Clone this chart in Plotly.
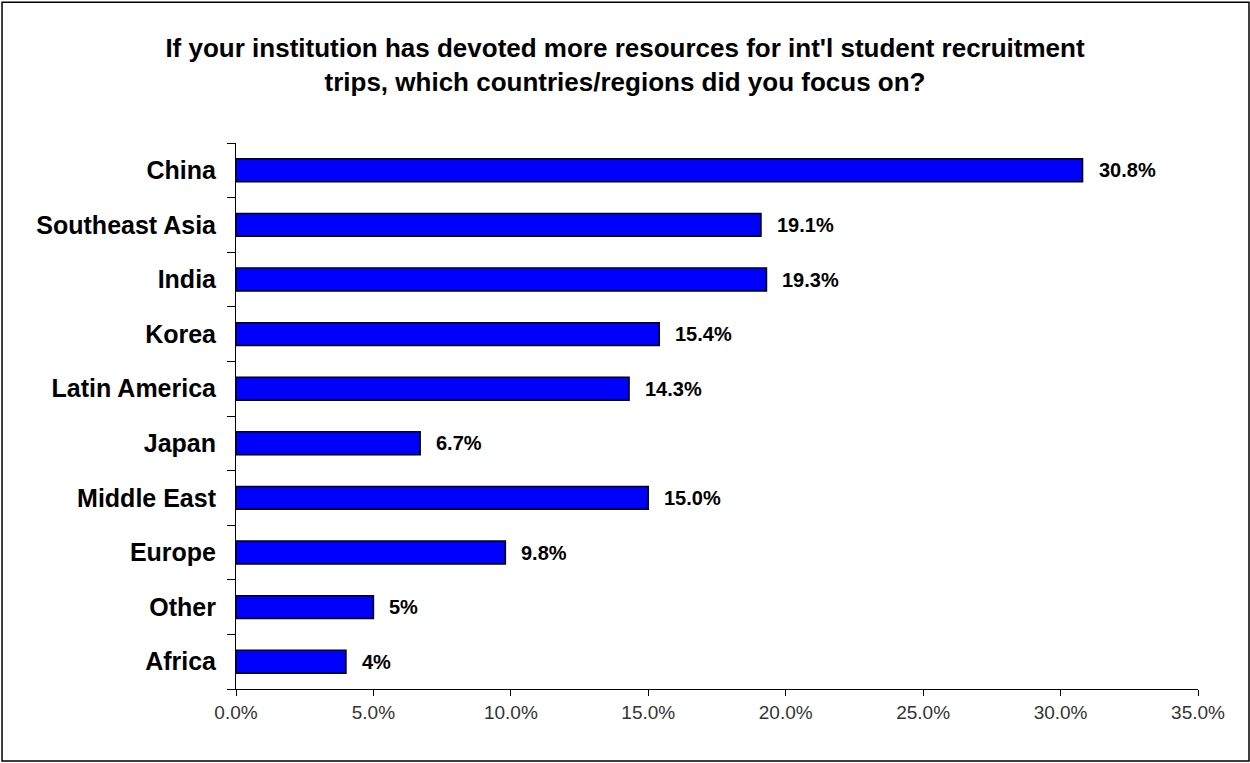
import plotly.graph_objects as go

categories = ["China", "Southeast Asia", "India", "Korea", "Latin America",
              "Japan", "Middle East", "Europe", "Other", "Africa"]
values = [30.8, 19.1, 19.3, 15.4, 14.3, 6.7, 15.0, 9.8, 5, 4]
value_labels = ["30.8%", "19.1%", "19.3%", "15.4%", "14.3%",
                "6.7%", "15.0%", "9.8%", "5%", "4%"]
x_ticks = [0, 5, 10, 15, 20, 25, 30, 35]
x_tick_labels = ["0.0%", "5.0%", "10.0%", "15.0%", "20.0%", "25.0%", "30.0%", "35.0%"]

FONT = "Liberation Sans, Arial"

fig = go.Figure(go.Bar(
    y=categories, x=values, orientation="h",
    marker=dict(color="#0000FF", line=dict(color="black", width=1.5)),
))

for c, v, t in zip(categories, values, value_labels):
    fig.add_annotation(x=v, y=c, text=f"<b>{t}</b>", showarrow=False,
                       xanchor="left", xshift=14,
                       font=dict(family=FONT, size=20, color="black"))

fig.update_layout(
    width=1250, height=763,
    margin=dict(l=236, r=52, t=143, b=74),
    paper_bgcolor="white", plot_bgcolor="white",
    bargap=0.58,
    showlegend=False,
    title=dict(
        text="<b>If your institution has devoted more resources for int'l student recruitment<br>trips, which countries/regions did you focus on?</b>",
        x=0.5, xanchor="center", y=0.925, yanchor="top",
        font=dict(family=FONT, size=26, color="black"),
    ),
    xaxis=dict(
        range=[0, 35], tickvals=x_ticks, ticktext=x_tick_labels,
        showgrid=False, zeroline=False, showline=True, linecolor="black", linewidth=1,
        ticks="outside", ticklen=6, tickcolor="black",
        tickfont=dict(family=FONT, size=19, color="#333333"),
    ),
    yaxis=dict(
        autorange="reversed", showgrid=False, showline=True, linecolor="black", linewidth=1,
        ticks="outside", ticklen=8, tickcolor="black", tickson="boundaries",
        tickvals=categories, ticktext=[f"<b>{c}</b>" for c in categories],
        tickfont=dict(family=FONT, size=25, color="black"),
        ticklabelstandoff=14,
    ),
    font=dict(family=FONT),
)

fig.add_shape(type="rect", xref="paper", yref="paper",
              x0=-0.2432, x1=1.053, y0=-0.1319, y1=1.258,
              line=dict(color="black", width=1.5), fillcolor="rgba(0,0,0,0)")

fig.write_html("out.html", config={"displayModeBar": False},
               post_script="document.body.style.margin='0';")
